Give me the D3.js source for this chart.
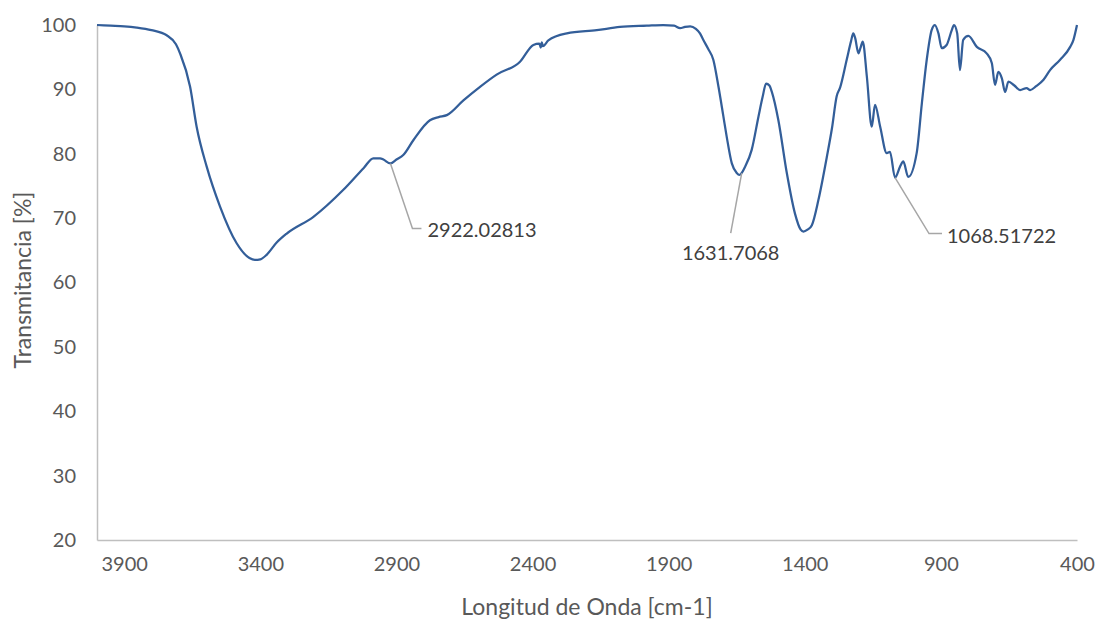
<!DOCTYPE html>
<html>
<head>
<meta charset="utf-8">
<script src="https://d3js.org/d3.v7.min.js"></script>
<style>
    body { margin: 0; background: #ffffff; }
    text { font-family: Lato, "Open Sans", sans-serif; }
</style>
</head>
<body>
<div id="chart"></div>
<script>
// FTIR spectrum values
var wavenumber = [4000, 3950, 3900, 3854, 3800, 3744, 3710, 3695, 3658, 3634, 3597, 3548, 3487, 3440, 3420, 3400, 3377, 3340, 3303, 3205, 3095, 3020, 2985, 2960, 2948, 2922, 2900, 2875, 2838, 2777, 2745, 2715, 2654, 2593, 2532, 2446, 2397, 2375, 2370, 2366, 2362, 2342, 2274, 2164, 2079, 1980, 1920, 1880, 1858, 1840, 1821, 1800, 1785, 1773, 1755, 1736, 1717, 1699, 1687, 1668, 1650, 1640, 1632, 1619, 1595, 1570, 1555, 1542, 1530, 1521, 1497, 1466, 1436, 1415, 1405, 1390, 1374, 1350, 1319, 1300, 1283, 1270, 1246, 1230, 1222, 1215, 1203, 1195, 1187, 1172, 1154, 1142, 1123, 1099, 1087, 1068.5, 1050, 1038, 1020, 989, 970, 952, 934, 922, 909, 897, 879, 860, 852, 840, 830, 818, 799, 768, 732, 713, 701, 689, 676, 664, 652, 630, 609, 585, 572, 550, 523, 499, 462, 425, 413, 400];
var transmittance = [100, 99.9, 99.8, 99.6, 99.2, 98.4, 97.0, 95.6, 90.4, 84.2, 78.0, 71.8, 66.1, 63.8, 63.5, 63.6, 64.3, 66.2, 67.6, 70.2, 74.4, 77.8, 79.3, 79.3, 79.1, 78.5, 79.1, 79.8, 82.1, 85.2, 85.7, 86.0, 88.3, 90.4, 92.3, 94.3, 96.9, 97.1, 96.5, 97.3, 96.7, 97.6, 98.7, 99.2, 99.7, 99.9, 100, 99.9, 99.5, 99.7, 99.8, 99.4, 98.7, 97.7, 96.3, 94.6, 90.4, 85.8, 82.7, 78.5, 77.0, 76.7, 77.0, 78.0, 80.6, 85.8, 88.8, 90.9, 90.6, 89.6, 85.2, 77.0, 70.7, 68.2, 67.9, 68.2, 68.9, 72.8, 79.5, 84.0, 88.9, 90.3, 94.6, 97.5, 98.7, 98.0, 95.6, 96.5, 97.4, 92.0, 84.2, 87.6, 84.2, 80.1, 80.3, 76.3, 78.0, 78.8, 76.4, 80.1, 87.8, 94.6, 99.2, 100, 98.7, 96.4, 96.9, 99.2, 100, 98.7, 93.0, 97.7, 98.3, 96.6, 95.6, 94.1, 90.7, 92.7, 91.7, 89.6, 91.2, 90.6, 89.9, 90.2, 89.9, 90.5, 91.5, 93.0, 94.6, 96.6, 97.7, 100];

var xTicks = [3900, 3400, 2900, 2400, 1900, 1400, 900, 400];
var yTicks = [20, 30, 40, 50, 60, 70, 80, 90, 100];

// labelled peaks
var peakWave = [2922.02813, 1631.7068, 1068.51722];
var peakT = [78.5, 77.0, 76.3];
var peakLabel = ["2922.02813", "1631.7068", "1068.51722"];

var data = wavenumber.map((w, i) => ({ w: w, t: transmittance[i] }));

var svgWidth = 1098;
var svgHeight = 626;

var margin = { top: 25, right: 21, bottom: 86, left: 97 };
var chartWidth = svgWidth - margin.left - margin.right;
var chartHeight = svgHeight - margin.top - margin.bottom;

var svg = d3.select("#chart")
    .append("svg")
    .attr("width", svgWidth)
    .attr("height", svgHeight);

var chartGroup = svg.append("g")
    .attr("transform", `translate(${margin.left}, ${margin.top})`);

// reversed wavenumber axis
var xScale = d3.scaleLinear()
    .domain([4000, 400])
    .range([0, chartWidth]);

var yScale = d3.scaleLinear()
    .domain([20, 100])
    .range([chartHeight, 0]);

var bottomAxis = d3.axisBottom(xScale)
    .tickValues(xTicks)
    .tickSize(0)
    .tickPadding(24)
    .tickFormat(d3.format("d"));

var leftAxis = d3.axisLeft(yScale)
    .tickValues(yTicks)
    .tickSize(0)
    .tickPadding(21)
    .tickFormat(d3.format("d"));

var xAxisG = chartGroup.append("g")
    .attr("transform", `translate(0, ${chartHeight})`)
    .call(bottomAxis);

var yAxisG = chartGroup.append("g")
    .call(leftAxis);

[xAxisG, yAxisG].forEach(g => {
    g.select(".domain").attr("stroke", "#bfbfbf").attr("stroke-width", 1.5);
    g.selectAll("text")
        .attr("fill", "#595959")
        .style("font-size", "20px")
        .style("font-family", "Lato, sans-serif");
});
xAxisG.selectAll("text").attr("dy", "0.35em");

// spectrum line
var line = d3.line()
    .x(d => xScale(d.w))
    .y(d => yScale(d.t))
    .curve(d3.curveMonotoneX);

chartGroup.append("path")
    .datum(data)
    .attr("fill", "none")
    .attr("stroke", "#335e99")
    .attr("stroke-width", 2.25)
    .attr("stroke-linejoin", "round")
    .attr("d", line);

// leader lines + labels (offsets from the point, in px)
var leaders = [
    { pts: [[0, 0], [22, 65], [31, 65]], tx: 37, ty: 67, anchor: "start" },
    { pts: [[0, 0], [-11, 60]], tx: -11, ty: 80, anchor: "middle" },
    { pts: [[0, 0], [34, 56], [47, 56]], tx: 52, ty: 58, anchor: "start" }
];

peakWave.forEach((w, i) => {
    var px = xScale(w);
    var py = yScale(peakT[i]);
    var l = leaders[i];
    chartGroup.append("polyline")
        .attr("points", l.pts.map(p => `${px + p[0]},${py + p[1]}`).join(" "))
        .attr("fill", "none")
        .attr("stroke", "#a6a6a6")
        .attr("stroke-width", 1.5);
    chartGroup.append("text")
        .attr("x", px + l.tx)
        .attr("y", py + l.ty)
        .attr("dy", "0.35em")
        .attr("text-anchor", l.anchor)
        .attr("fill", "#404040")
        .style("font-size", "20px")
        .text(peakLabel[i]);
});

// axis titles
svg.append("text")
    .attr("transform", "translate(23, 280) rotate(-90)")
    .attr("text-anchor", "middle")
    .attr("dy", "0.35em")
    .attr("fill", "#595959")
    .style("font-size", "23px")
    .text("Transmitancia [%]");

svg.append("text")
    .attr("x", 587)
    .attr("y", 607)
    .attr("text-anchor", "middle")
    .attr("dy", "0.35em")
    .attr("fill", "#595959")
    .style("font-size", "23px")
    .text("Longitud de Onda [cm-1]");
</script>
</body>
</html>
